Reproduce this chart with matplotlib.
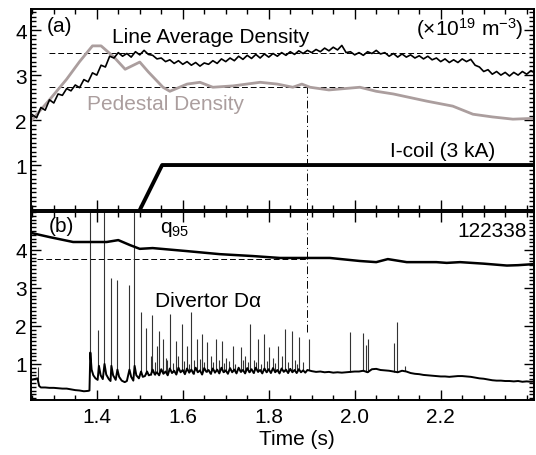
import numpy as np
import matplotlib
matplotlib.use("Agg")
import matplotlib.pyplot as plt
from matplotlib.ticker import MultipleLocator

plt.rcParams['font.family'] = ['Liberation Sans', 'DejaVu Sans']
plt.rcParams['mathtext.fontset'] = 'custom'
plt.rcParams['mathtext.rm'] = 'Liberation Sans'
plt.rcParams['mathtext.it'] = 'Liberation Sans:italic'

# ---------------- data ----------------
dens_t0 = 1.25
dens_dt = 0.01
line_avg_density = [
    2.12, 2.05, 2.28, 2.22, 2.45, 2.38, 2.58, 2.55, 2.70, 2.65,
    2.78, 2.72, 2.90, 2.85, 3.05, 3.00, 3.22, 3.18, 3.42, 3.38,
    3.50, 3.42, 3.48, 3.40, 3.52, 3.45, 3.55, 3.46, 3.44, 3.36,
    3.38, 3.30, 3.34, 3.26, 3.32, 3.24, 3.30, 3.22, 3.28, 3.20,
    3.27, 3.24, 3.32, 3.26, 3.36, 3.30, 3.38, 3.32, 3.42, 3.35,
    3.44, 3.37, 3.46, 3.38, 3.47, 3.40, 3.48, 3.42, 3.50, 3.44,
    3.52, 3.46, 3.54, 3.48, 3.55, 3.50, 3.57, 3.52, 3.60, 3.54,
    3.62, 3.56, 3.66, 3.50, 3.52, 3.45, 3.50, 3.44, 3.52, 3.48,
    3.55, 3.47, 3.50, 3.42, 3.48, 3.40, 3.47, 3.40, 3.45, 3.38,
    3.43, 3.36, 3.42, 3.34, 3.38, 3.30, 3.36, 3.28, 3.34, 3.28,
    3.36, 3.30, 3.35, 3.22, 3.18, 3.08, 3.12, 3.02, 3.08, 3.00,
    3.06, 2.98, 3.06, 3.00, 3.08, 3.02, 3.10, 3.04,
]

ped_t = [1.247, 1.29, 1.33, 1.36, 1.39, 1.41, 1.44, 1.466, 1.50, 1.52, 1.554,
         1.57, 1.61, 1.64, 1.67, 1.717, 1.78, 1.82, 1.856, 1.877, 1.896,
         1.94, 2.012, 2.05, 2.09, 2.168, 2.228, 2.275, 2.32, 2.368, 2.42]
ped_v = [1.98, 2.45, 2.91, 3.30, 3.65, 3.65, 3.40, 3.13, 3.29, 3.07, 2.73,
         2.64, 2.80, 2.84, 2.73, 2.76, 2.84, 2.80, 2.73, 2.80, 2.73,
         2.67, 2.73, 2.64, 2.58, 2.42, 2.31, 2.13, 2.07, 2.02, 2.04]

icoil_t = [1.50, 1.552, 2.42]
icoil_v = [0.0, 1.0, 1.0]

q95_t = [1.247, 1.29, 1.345, 1.384, 1.423, 1.45, 1.477, 1.50, 1.53, 1.61,
         1.686, 1.763, 1.826, 1.942, 2.012, 2.05, 2.077, 2.121, 2.19, 2.214,
         2.245, 2.30, 2.354, 2.38, 2.42]
q95_v = [4.45, 4.34, 4.21, 4.21, 4.21, 4.26, 4.13, 4.03, 4.05, 3.97,
         3.89, 3.84, 3.79, 3.79, 3.71, 3.68, 3.76, 3.68, 3.68, 3.66,
         3.68, 3.64, 3.59, 3.60, 3.63]

da_t = [1.247, 1.255, 1.262, 1.266, 1.270, 1.28, 1.29, 1.30, 1.31, 1.32, 1.33,
        1.34, 1.35, 1.36, 1.37, 1.380, 1.383, 1.385, 1.388, 1.392, 1.397,
        1.402, 1.405, 1.409, 1.414, 1.418, 1.422, 1.428, 1.432, 1.434, 1.438,
        1.444, 1.448, 1.452, 1.458, 1.465, 1.470, 1.476, 1.480, 1.485, 1.488,
        1.492, 1.498, 1.503, 1.507, 1.512, 1.517, 1.521, 1.526, 1.53, 1.535,
        1.54, 1.545, 1.55, 1.555, 1.56, 1.565, 1.57, 1.575, 1.58, 1.585, 1.59,
        1.595, 1.60, 1.605, 1.61, 1.615, 1.62, 1.625, 1.63, 1.635, 1.64,
        1.645, 1.65, 1.655, 1.66, 1.665, 1.67, 1.675, 1.68, 1.685, 1.69,
        1.695, 1.70, 1.705, 1.71, 1.715, 1.72, 1.725, 1.73, 1.735, 1.74,
        1.745, 1.75, 1.755, 1.76, 1.765, 1.77, 1.775, 1.78, 1.785, 1.79,
        1.795, 1.80, 1.805, 1.81, 1.815, 1.82, 1.825, 1.83, 1.835, 1.84,
        1.845, 1.85, 1.855, 1.86, 1.865, 1.87, 1.875, 1.88, 1.885, 1.89,
        1.90, 1.91, 1.92, 1.93, 1.94, 1.95, 1.96, 1.97,
        1.98, 1.99, 2.00, 2.01, 2.02, 2.03, 2.04, 2.05, 2.06, 2.07, 2.08,
        2.09, 2.10, 2.11, 2.12, 2.13, 2.14, 2.15, 2.16, 2.17, 2.18, 2.19,
        2.20, 2.21, 2.22, 2.23, 2.24, 2.25, 2.26, 2.27, 2.28, 2.29, 2.30,
        2.31, 2.32, 2.33, 2.34, 2.35, 2.36, 2.37, 2.38, 2.39, 2.40, 2.41, 2.42]
da_v = [0.58, 0.60, 0.62, 0.42, 0.38, 0.38, 0.37, 0.37, 0.36, 0.35, 0.35,
        0.33, 0.31, 0.30, 0.28, 0.29, 0.30, 1.30, 0.85, 0.70, 0.62,
        0.58, 0.95, 0.70, 0.60, 1.00, 0.72, 0.60, 0.55, 0.95, 0.70,
        0.58, 0.85, 0.66, 0.56, 0.52, 0.55, 0.85, 0.66, 0.56, 0.95,
        0.70, 0.62, 0.80, 0.66, 0.68, 0.80, 0.70, 0.72, 0.85, 0.72,
        0.78, 0.70, 0.86, 0.74, 0.80, 0.70, 0.88, 0.76, 0.82, 0.72, 0.90,
        0.78, 0.84, 0.73, 0.88, 0.77, 0.85, 0.74, 0.90, 0.78, 0.83,
        0.72, 0.89, 0.79, 0.84, 0.74, 0.88, 0.77, 0.85, 0.75, 0.90,
        0.78, 0.83, 0.74, 0.89, 0.78, 0.85, 0.75, 0.90, 0.79, 0.84,
        0.75, 0.89, 0.78, 0.86, 0.76, 0.90, 0.79, 0.84, 0.75, 0.88,
        0.78, 0.86, 0.76, 0.89, 0.78, 0.84, 0.75, 0.88, 0.79, 0.85,
        0.76, 0.87, 0.78, 0.84, 0.76, 0.86, 0.78, 0.83, 0.77, 0.84,
        0.81, 0.79, 0.80, 0.78, 0.79, 0.77, 0.78, 0.77,
        0.78, 0.79, 0.80, 0.80, 0.82, 0.78, 0.86, 0.87, 0.84, 0.83, 0.82,
        0.80, 0.78, 0.82, 0.80, 0.76, 0.74, 0.73, 0.71, 0.70, 0.69, 0.68,
        0.67, 0.67, 0.66, 0.67, 0.68, 0.68, 0.67, 0.66, 0.64, 0.62, 0.61,
        0.59, 0.57, 0.56, 0.56, 0.55, 0.55, 0.54, 0.55, 0.53, 0.54, 0.53, 0.54]

spike_t = [1.264, 1.384, 1.404, 1.417, 1.433, 1.447, 1.475, 1.487, 1.502, 1.514,
           1.525, 1.528, 1.540, 1.545, 1.554, 1.560, 1.570, 1.584, 1.590, 1.598,
           1.610, 1.619, 1.625, 1.633, 1.644, 1.656, 1.665, 1.677, 1.691, 1.700,
           1.717, 1.735, 1.745, 1.756, 1.765, 1.775, 1.788, 1.800, 1.810, 1.822,
           1.830, 1.838, 1.853, 1.860, 1.870, 1.880, 1.893, 1.990, 2.019, 2.026,
           2.032, 2.091, 2.098, 2.117,
           1.535, 1.563, 1.578, 1.603, 1.614, 1.640, 1.650, 1.670, 1.684, 1.697,
           1.708, 1.722, 1.740, 1.751, 1.770, 1.781, 1.795, 1.815, 1.845, 1.866]
spike_v = [0.92, 5.2, 1.89, 5.2, 3.26, 3.20, 3.08, 5.2, 2.36, 1.95,
           1.20, 2.29, 1.47, 1.87, 1.66, 1.15, 2.32, 1.61, 1.20, 2.05,
           1.47, 2.37, 1.10, 1.66, 1.79, 1.58, 1.20, 1.66, 1.61, 1.15,
           1.47, 1.45, 1.20, 2.05, 1.10, 1.66, 1.79, 1.45, 1.15, 1.47,
           1.20, 1.92, 1.87, 1.10, 1.71, 1.05, 1.66, 1.84, 1.82, 1.50,
           1.66, 1.55, 2.11, 0.95,
           1.05, 1.10, 1.02, 1.08, 1.00, 1.12, 1.04, 1.06, 1.10, 1.02,
           1.08, 1.00, 1.10, 1.04, 1.06, 1.00, 1.08, 1.02, 1.05, 1.00]

xticks = [1.4, 1.6, 1.8, 2.0, 2.2]
xticklabels = ["1.4", "1.6", "1.8", "2.0", "2.2"]
yticks = [1, 2, 3, 4]

# reference levels
dens_ref_levels = [3.5, 2.73]
q95_ref_level = 3.75
t_mark = 1.89

# ---------------- figure ----------------
W, H = 536, 456
fig = plt.figure(figsize=(W / 100, H / 100), dpi=100)
L, R = 31 / W, 534 / W
axa = fig.add_axes([L, 1 - 211 / H, R - L, (211 - 10) / H])
axb = fig.add_axes([L, 1 - 401 / H, R - L, (401 - 213) / H])

xlim = (1.247, 2.417)
fs = 15
gray = '#ab9e9e'

for ax in (axa, axb):
    ax.set_xlim(*xlim)
    ax.set_xticks(xticks)
    ax.xaxis.set_minor_locator(MultipleLocator(0.05))
    ax.set_yticks(yticks)
    ax.yaxis.set_minor_locator(MultipleLocator(0.1))
    ax.tick_params(which='both', direction='in', top=True, right=True,
                   width=1.0, labelsize=fs)
    ax.tick_params(which='major', length=7)
    ax.tick_params(which='minor', length=3.5)
    ax.tick_params(axis='x', pad=5)
    ax.tick_params(axis='y', pad=3)
    for s in ax.spines.values():
        s.set_linewidth(1.4)

axa.set_ylim(0, 4.47)
axb.set_ylim(0.05, 5.0)
axa.tick_params(labelbottom=False)
axb.set_xticklabels(xticklabels)

# panel (a)
dens_t = dens_t0 + dens_dt * np.arange(len(line_avg_density))
for lvl in dens_ref_levels:
    axa.plot([1.29, 2.396], [lvl, lvl], color='black', lw=0.7, ls=(0, (6, 3)))
axa.plot([t_mark, t_mark], [0, 2.75], color='black', lw=0.7, ls=(0, (8, 3, 1, 3)))
axa.plot(ped_t, ped_v, color=gray, lw=2.0)
axa.plot(dens_t, line_avg_density, color='black', lw=1.2)
axa.plot(icoil_t, icoil_v, color='black', lw=2.8, solid_capstyle='butt')

axa.text(1.284, 3.98, "(a)", fontsize=fs, va='baseline', ha='left')
axa.text(1.435, 3.73, "Line Average Density", fontsize=fs, va='baseline', ha='left')
axa.text(2.392, 3.89, "(\u00d710$^{19}$ m$^{-3}$)", fontsize=fs, va='baseline', ha='right')
axa.text(1.377, 2.24, "Pedestal Density", fontsize=fs, va='baseline', ha='left', color=gray)
axa.text(2.082, 1.2, "I-coil (3 kA)", fontsize=fs, va='baseline', ha='left')

# panel (b)
axb.plot([1.26, t_mark], [q95_ref_level, q95_ref_level], color='black', lw=0.7, ls=(0, (6, 3)))
axb.plot([t_mark, t_mark], [1.85, 5.0], color='black', lw=0.7, ls=(0, (8, 3, 1, 3)))
base_at_spikes = np.interp(spike_t, da_t, da_v)
axb.vlines(spike_t, base_at_spikes, spike_v, color='#333333', lw=0.8)
axb.plot(da_t, da_v, color='black', lw=1.4)
axb.plot(q95_t, q95_v, color='black', lw=1.8)

axb.text(1.289, 4.5, "(b)", fontsize=fs, va='baseline', ha='left')
axb.text(1.547, 4.47, "q$_{95}$", fontsize=fs, va='baseline', ha='left')
axb.text(2.401, 4.37, "122338", fontsize=fs, va='baseline', ha='right')
axb.text(1.535, 2.53, "Divertor D\u03b1", fontsize=fs, va='baseline', ha='left')
axb.text(0.529, -0.234, "Time (s)", fontsize=fs, va='baseline', ha='center',
         transform=axb.transAxes)

fig.savefig("out.png", dpi=100)
